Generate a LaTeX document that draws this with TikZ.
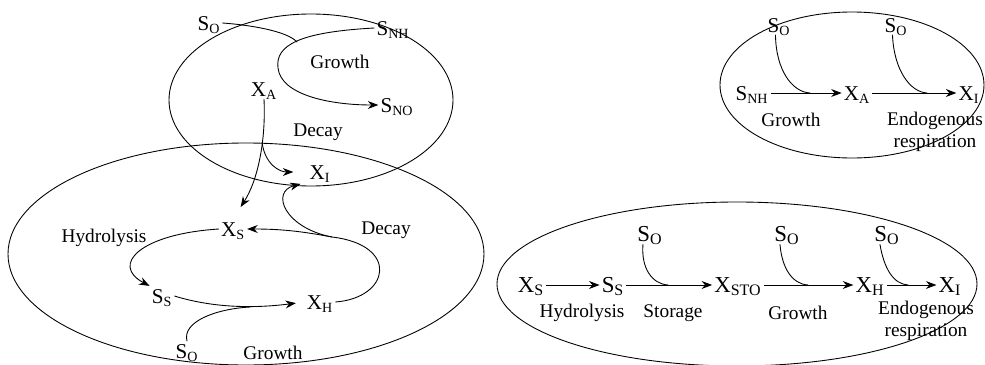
\documentclass[tikz,border=0pt]{standalone}
\usepackage{fontspec}
\setmainfont{Liberation Serif}
\usetikzlibrary{arrows.meta}

\begin{document}
\begin{tikzpicture}[x=0.02cm, y=-0.02cm, line width=0.5pt,
    species/.style={inner sep=1pt, text height=8.5pt, text depth=0.5pt,
                    font=\fontsize{12}{14}\selectfont},
    bigspecies/.style={inner sep=1pt, text height=9pt, text depth=0.4pt,
                       font=\fontsize{13}{15}\selectfont},
    process/.style={inner sep=1pt, align=center,
                    font=\fontsize{11}{12.5}\selectfont},
    flow/.style={-{Stealth[length=6pt, width=4.5pt]}},
    feed/.style={line cap=round}]
\useasboundingbox (0,0) rectangle (985,365);

% left: the two cells
\draw (311,100) ellipse [x radius=142, y radius=86];
\draw (246,254) ellipse [x radius=238, y radius=111];

\node[species] (soA) at (209,23) {S\textsubscript{O}};
\node[species] (snh) at (393,28) {S\textsubscript{NH}};
\node[process] (growA) at (340,62) {Growth};
\node[species] (xa) at (264,89) {X\textsubscript{A}};
\node[species] (sno) at (397,105) {S\textsubscript{NO}};
\node[process] (decayA) at (318,132) {Decay};
\node[species] (xi) at (320,172) {X\textsubscript{I}};
\node[species] (xs) at (233,229) {X\textsubscript{S}};
\node[process] (hydA) at (104,238) {Hydrolysis};
\node[process] (decayB) at (386,230) {Decay};
\node[species] (ss) at (162,296) {S\textsubscript{S}};
\node[species] (xh) at (320,302) {X\textsubscript{H}};
\node[species] (soB) at (187,351) {S\textsubscript{O}};
\node[process] (growB) at (273,353) {Growth};

\coordinate (joinA) at (297,42);
\coordinate (forkA) at (262,142);
\coordinate (forkB) at (332,237);
\coordinate (joinB) at (250,307);

\draw[flow] (snh.west) .. controls (300,32) and (275,45) .. (278,68)
  .. controls (281,95) and (330,105) .. (sno.west);
\draw[feed] (soA.east) .. controls (250,25) and (287,31) .. (joinA);
\draw[flow, shorten >=8pt] (xa.south) .. controls (266,140) and (258,180) .. (xs.north);
\draw[flow, shorten >=8pt] (forkA) .. controls (265,165) and (280,172) .. (xi.west);
\draw[flow] (xh.east) .. controls (390,298) and (400,245) .. (forkB)
  .. controls (300,231) and (280,229) .. (xs.east);
\draw[flow, shorten >=4pt] (forkB) .. controls (285,228) and (270,192) .. (xi.south west);
\draw[flow] (xs.west) .. controls (140,234) and (110,265) .. (ss.north west);
\draw[flow, shorten >=5pt] (ss.east) .. controls (210,307) and (250,309) .. (xh.west);
\draw[feed] (soB.north) .. controls (182,322) and (215,309) .. (joinB);

% top right: autotrophs
\draw (852,85) ellipse [x radius=132, y radius=73];

\node[species] (soC) at (779,25) {S\textsubscript{O}};
\node[species] (soD) at (896,25) {S\textsubscript{O}};
\node[species] (snhB) at (752,93) {S\textsubscript{NH}};
\node[species] (xaB) at (857,93) {X\textsubscript{A}};
\node[species] (xiB) at (969,93) {X\textsubscript{I}};
\node[process] (growC) at (791,120) {Growth};
\node[process] (endoA) at (935,132) {Endogenous\\respiration};

\coordinate (joinC) at (810,93);
\coordinate (joinD) at (927,93);

\draw[flow] (snhB.east) -- (xaB.west);
\draw[flow] (xaB.east) -- (xiB.west);
\draw[feed] ([xshift=-2pt]soC.south) .. controls (776,70) and (792,92) .. (joinC);
\draw[feed] ([xshift=-2pt]soD.south) .. controls (894,70) and (910,92) .. (joinD);

% bottom right: heterotrophs with storage
\draw (737,284) ellipse [x radius=240, y radius=82];

\node[bigspecies] (xsB) at (531,285) {X\textsubscript{S}};
\node[bigspecies] (ssB) at (613,285) {S\textsubscript{S}};
\node[bigspecies] (xsto) at (738,285) {X\textsubscript{STO}};
\node[bigspecies] (xhB) at (870,285) {X\textsubscript{H}};
\node[bigspecies] (xiC) at (950,285) {X\textsubscript{I}};
\node[bigspecies] (soE) at (650,234) {S\textsubscript{O}};
\node[bigspecies] (soF) at (787,234) {S\textsubscript{O}};
\node[bigspecies] (soG) at (887,234) {S\textsubscript{O}};
\node[process] (hydB) at (582,313) {Hydrolysis};
\node[process] (stor) at (673,313) {Storage};
\node[process] (growD) at (798,313) {Growth};
\node[process] (endoB) at (926,321) {Endogenous\\respiration};

\coordinate (joinE) at (668,285);
\coordinate (joinF) at (808,285);
\coordinate (joinG) at (908,285);

\draw[flow] (xsB.east) -- (ssB.west);
\draw[flow] (ssB.east) -- (xsto.west);
\draw[flow] (xsto.east) -- (xhB.west);
\draw[flow] (xhB.east) -- (xiC.west);
\draw[feed] ([xshift=-4pt]soE.south) .. controls (641,268) and (652,284) .. (joinE);
\draw[feed] ([xshift=-4pt]soF.south) .. controls (782,268) and (792,284) .. (joinF);
\draw[feed] ([xshift=-4pt]soG.south) .. controls (884,268) and (893,284) .. (joinG);
\end{tikzpicture}
\end{document}
